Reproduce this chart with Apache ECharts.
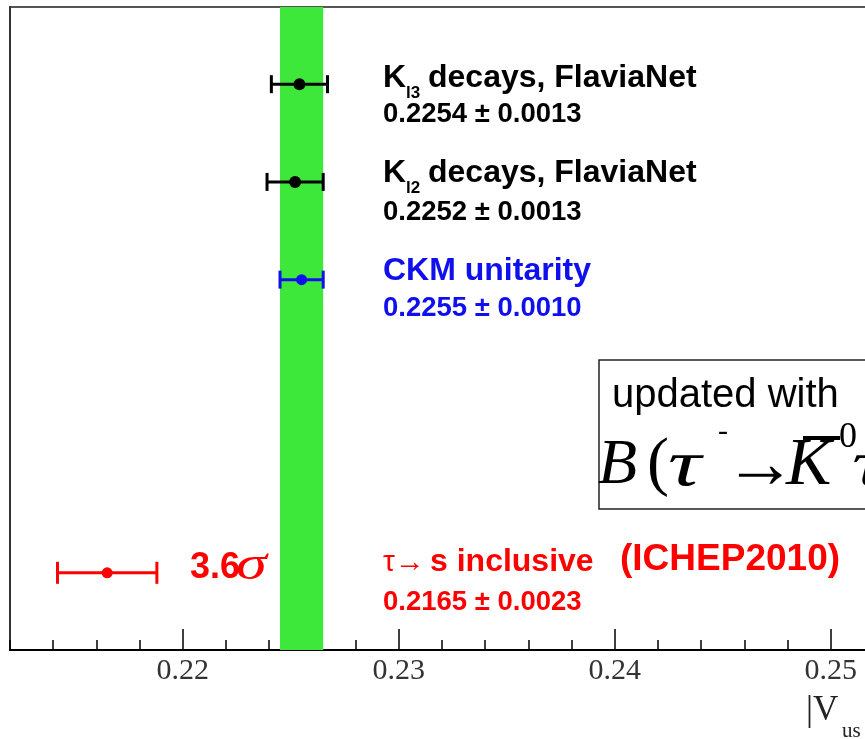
<!DOCTYPE html>
<html><head><meta charset="utf-8">
<script src="https://cdn.jsdelivr.net/npm/echarts@6/dist/echarts.min.js"></script>
<style>html,body{margin:0;padding:0;background:#fff}#c{width:865px;height:739px}</style>
</head><body><div id="c"></div>
<script>
// ---- data ----
const measurementNames = ['Kl3 decays, FlaviaNet', 'Kl2 decays, FlaviaNet', 'CKM unitarity', 'tau -> s inclusive'];
const centralValues = [0.2254, 0.2252, 0.2255, 0.2165];
const uncertainties = [0.0013, 0.0013, 0.0010, 0.0023];
const rowIndex = [0, 1, 2, 5];
const bandCenter = 0.2255;
const bandHalfWidth = 0.0010;
const majorTicks = [0.22, 0.23, 0.24, 0.25];
const tickLabels = ['0.22', '0.23', '0.24', '0.25'];
const deviation = '3.6';

// ---- styling ----
const colors = ['#000000', '#000000', '#1010ee', '#ff0000'];
const SANS = '"Liberation Sans", Arial, sans-serif';
const SERIF = '"Liberation Serif", "Times New Roman", serif';
const xMin = 0.212, xMax = 0.26;
const gridLeft = 10, gridTop = 7, gridHeight = 643;
const pxPerUnit = 21600;

const chart = echarts.init(document.getElementById('c'), null, {renderer: 'canvas'});

function fmt(v) { return v.toFixed(4); }

function txt(x, y, text, font, fill, extra) {
  return Object.assign({type: 'text', silent: true, z: 100,
    style: {x: x, y: y, text: text, font: font, fill: fill, textAlign: 'left', textVerticalAlign: 'middle'}}, extra || {});
}
function stretched(x, y, text, font, fill, sx) {
  return {type: 'text', silent: true, z: 100, x: x, y: y, scaleX: sx, scaleY: 1,
    style: {x: 0, y: 0, text: text, font: font, fill: fill, textAlign: 'left', textVerticalAlign: 'middle'}};
}

const headerFont = 'bold 32px ' + SANS;
const valueFont = 'bold 27.5px ' + SANS;
const subFont = 'bold 17px ' + SANS;

const graphics = [
  // K_l3
  txt(383, 78, 'K', headerFont, colors[0]),
  txt(406, 93, 'l3', subFont, colors[0]),
  txt(428, 78, 'decays, FlaviaNet', headerFont, colors[0]),
  txt(383, 114, fmt(centralValues[0]) + ' \u00b1 ' + fmt(uncertainties[0]), valueFont, colors[0]),
  // K_l2
  txt(383, 173, 'K', headerFont, colors[1]),
  txt(406, 188, 'l2', subFont, colors[1]),
  txt(428, 173, 'decays, FlaviaNet', headerFont, colors[1]),
  txt(383, 212, fmt(centralValues[1]) + ' \u00b1 ' + fmt(uncertainties[1]), valueFont, colors[1]),
  // CKM
  txt(383, 271, 'CKM unitarity', headerFont, colors[2]),
  txt(383, 308, fmt(centralValues[2]) + ' \u00b1 ' + fmt(uncertainties[2]), valueFont, colors[2]),
  // tau
  txt(383, 563, '\u03c4\u2192', '30px ' + SANS, colors[3]),
  txt(430, 562, 's inclusive', headerFont, colors[3]),
  txt(620, 560, '(ICHEP2010)', 'bold 37px ' + SANS, colors[3]),
  txt(383, 602, fmt(centralValues[3]) + ' \u00b1 ' + fmt(uncertainties[3]), valueFont, colors[3]),
  // 3.6 sigma
  txt(190, 568, deviation, 'bold 36px ' + SANS, colors[3]),
  stretched(236, 566, '\u03c3', 'italic 48px ' + SERIF, colors[3], 1.3),
  // axis title |V_us
  txt(806, 711, '|V', '35px ' + SERIF, '#222'),
  txt(842, 731, 'us', '21px ' + SERIF, '#222'),
  // annotation box
  {type: 'rect', silent: true, z: 90, shape: {x: 599, y: 360, width: 400, height: 149},
    style: {fill: 'rgba(0,0,0,0)', stroke: '#222', lineWidth: 1.5}},
  txt(612, 396, 'updated with', '40px ' + SANS, '#000'),
  txt(598, 466, 'B', 'italic 64px ' + SERIF, '#000'),
  txt(647, 466, '(', '66px ' + SERIF, '#000'),
  stretched(668, 468, '\u03c4', 'italic 66px ' + SERIF, '#000', 1.4),
  txt(718, 432, '-', '30px ' + SERIF, '#000'),
  txt(724, 468, '\u2192', '72px ' + SERIF, '#000'),
  txt(786, 466, 'K', 'italic 68px ' + SERIF, '#000'),
  {type: 'rect', silent: true, z: 100, shape: {x: 803, y: 436, width: 37, height: 4}, style: {fill: '#000'}},
  txt(839, 438, '0', '36px ' + SERIF, '#000'),
  stretched(852, 468, '\u03c4', 'italic 66px ' + SERIF, '#000', 1.4)
];

const option = {
  backgroundColor: '#fff',
  animation: false,
  grid: {left: gridLeft, top: gridTop, width: (xMax - xMin) * pxPerUnit, height: gridHeight,
    outerBoundsMode: 'none', containLabel: false,
    show: true, borderColor: '#555', borderWidth: 2, backgroundColor: 'transparent'},
  xAxis: [{
    type: 'value', min: xMin, max: xMax, position: 'bottom',
    axisLine: {show: true, onZero: false, lineStyle: {color: '#000', width: 2}},
    axisTick: {show: true, inside: true, length: 21, lineStyle: {color: '#000', width: 1.5}, customValues: majorTicks},
    axisLabel: {show: true, customValues: majorTicks, fontFamily: SERIF, fontSize: 30, color: '#333', margin: 6,
      formatter: function (v) { const i = majorTicks.findIndex(t => Math.abs(t - v) < 1e-9); return i >= 0 ? tickLabels[i] : ''; }},
    splitLine: {show: false}
  }, {
    type: 'value', min: xMin, max: xMax, interval: 0.002, position: 'bottom',
    axisLine: {show: false, onZero: false},
    axisTick: {show: true, inside: true, length: 10, lineStyle: {color: '#000', width: 1.5}},
    axisLabel: {show: false},
    splitLine: {show: false}
  }],
  yAxis: {
    type: 'value', min: -0.79, max: 5.79, inverse: true,
    axisLine: {show: true, onZero: false, lineStyle: {color: '#333', width: 2}},
    axisTick: {show: false}, axisLabel: {show: false}, splitLine: {show: false}
  },
  series: [{
    type: 'custom', name: 'band', z: 1, silent: true, clip: true,
    data: [[bandCenter, bandHalfWidth]],
    renderItem: function (params, api) {
      const c = api.value(0), h = api.value(1);
      const lo = api.coord([c - h, 0]), hi = api.coord([c + h, 0]);
      const cs = params.coordSys;
      return {type: 'rect', shape: {x: lo[0], y: cs.y, width: hi[0] - lo[0], height: cs.height},
        style: {fill: '#3ee83b'}};
    }
  }, {
    type: 'custom', name: 'measurements', z: 5, silent: true, clip: false,
    data: centralValues.map((v, i) => [v, uncertainties[i], rowIndex[i], i]),
    renderItem: function (params, api) {
      const v = api.value(0), e = api.value(1), r = api.value(2), ci = api.value(3);
      const c = api.coord([v, r]), lo = api.coord([v - e, r]), hi = api.coord([v + e, r]);
      const col = colors[ci];
      const cap = ci === 3 ? 11 : 9;
      const rad = ci < 2 ? 6 : 5.5;
      const ls = {stroke: col, lineWidth: 3};
      return {type: 'group', children: [
        {type: 'line', shape: {x1: lo[0], y1: c[1], x2: hi[0], y2: c[1]}, style: ls},
        {type: 'line', shape: {x1: lo[0], y1: c[1] - cap, x2: lo[0], y2: c[1] + cap}, style: ls},
        {type: 'line', shape: {x1: hi[0], y1: c[1] - cap, x2: hi[0], y2: c[1] + cap}, style: ls},
        {type: 'circle', shape: {cx: c[0], cy: c[1], r: rad}, style: {fill: col}}
      ]};
    }
  }],
  graphic: graphics
};
chart.setOption(option);
</script></body></html>
